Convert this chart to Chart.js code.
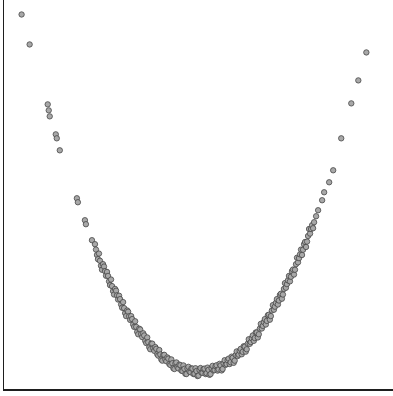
<!DOCTYPE html>
<html>
<head>
<meta charset="utf-8">
<script src="https://cdn.jsdelivr.net/npm/chart.js@4.4.1/dist/chart.umd.min.js"></script>
<style>
  html, body { margin: 0; padding: 0; background: #fff; overflow: hidden; }
  #box { width: 398px; height: 399px; margin-top: -3px; position: relative; }
</style>
</head>
<body>
<div id="box"><canvas id="chart"></canvas></div>
<script>
'use strict';

// Sparse points on the two arms of the curve.
const leftArmX = [-8.9, -8.5, -7.6, -7.55, -7.5, -7.2, -7.15, -7.0, -6.15, -6.1, -5.75, -5.7, -5.4, -5.25];
const leftArmY = [18.8, 17.3, 14.3, 14.0, 13.7, 12.8, 12.6, 12.0, 9.6, 9.4, 8.5, 8.3, 7.5, 7.3];
const rightArmX = [8.25, 7.85, 7.5, 7.0, 6.6, 6.4, 6.15, 6.05, 5.85, 5.75, 5.65, 5.6];
const rightArmY = [16.9, 15.5, 14.35, 12.6, 11.0, 10.4, 9.9, 9.5, 9.0, 8.7, 8.4, 8.1];

// Dense band around the bottom of the curve.
const bandX = [
  -5.2, -5.15, -5.1, -5.05, -5.0, -4.95, -4.9, -4.85, -4.8, -4.75, -4.7, -4.65, -4.6, -4.55, -4.5, -4.45,
  -4.4, -4.35, -4.3, -4.25, -4.2, -4.15, -4.1, -4.05, -4.0, -3.95, -3.9, -3.85, -3.8, -3.75, -3.7, -3.65,
  -3.6, -3.55, -3.5, -3.45, -3.4, -3.35, -3.3, -3.25, -3.2, -3.15, -3.1, -3.05, -3.0, -2.95, -2.9, -2.85,
  -2.8, -2.75, -2.7, -2.65, -2.6, -2.55, -2.5, -2.45, -2.4, -2.35, -2.3, -2.25, -2.2, -2.15, -2.1, -2.05,
  -2.0, -1.95, -1.9, -1.85, -1.8, -1.75, -1.7, -1.65, -1.6, -1.55, -1.5, -1.45, -1.4, -1.35, -1.3, -1.25,
  -1.2, -1.15, -1.1, -1.05, -1.0, -0.95, -0.9, -0.85, -0.8, -0.75, -0.7, -0.65, -0.6, -0.55, -0.5, -0.45,
  -0.4, -0.35, -0.3, -0.25, -0.2, -0.15, -0.1, -0.05, 0.0, 0.05, 0.1, 0.15, 0.2, 0.25, 0.3, 0.35,
  0.4, 0.45, 0.5, 0.55, 0.6, 0.65, 0.7, 0.75, 0.8, 0.85, 0.9, 0.95, 1.0, 1.05, 1.1, 1.15,
  1.2, 1.25, 1.3, 1.35, 1.4, 1.45, 1.5, 1.55, 1.6, 1.65, 1.7, 1.75, 1.8, 1.85, 1.9, 1.95,
  2.0, 2.05, 2.1, 2.15, 2.2, 2.25, 2.3, 2.35, 2.4, 2.45, 2.5, 2.55, 2.6, 2.65, 2.7, 2.75,
  2.8, 2.85, 2.9, 2.95, 3.0, 3.05, 3.1, 3.15, 3.2, 3.25, 3.3, 3.35, 3.4, 3.45, 3.5, 3.55,
  3.6, 3.65, 3.7, 3.75, 3.8, 3.85, 3.9, 3.95, 4.0, 4.05, 4.1, 4.15, 4.2, 4.25, 4.3, 4.35,
  4.4, 4.45, 4.5, 4.55, 4.6, 4.65, 4.7, 4.75, 4.8, 4.85, 4.9, 4.95, 5.0, 5.05, 5.1, 5.15,
  5.2, 5.25, 5.3, 5.35, 5.4, 5.45, 5.5, 5.55
];
const bandY = [
  7.03, 6.76, 6.55, 6.83, 6.47, 6.22, 6.02, 6.30, 6.18, 5.95, 5.72, 5.91, 5.71, 5.44, 5.25, 5.53,
  5.20, 4.95, 4.78, 5.06, 4.97, 4.74, 4.53, 4.72, 4.55, 4.28, 4.12, 4.40, 4.10, 3.85, 3.70, 3.98,
  3.92, 3.69, 3.51, 3.70, 3.55, 3.28, 3.16, 3.44, 3.16, 2.91, 2.79, 3.07, 3.03, 2.80, 2.65, 2.84,
  2.73, 2.46, 2.35, 2.63, 2.39, 2.14, 2.04, 2.32, 2.32, 2.09, 1.96, 2.15, 2.06, 1.79, 1.72, 2.00,
  1.78, 1.53, 1.47, 1.75, 1.76, 1.53, 1.44, 1.63, 1.57, 1.30, 1.25, 1.53, 1.34, 1.09, 1.05, 1.33,
  1.38, 1.15, 1.08, 1.27, 1.24, 0.97, 0.95, 1.23, 1.06, 0.81, 0.80, 1.08, 1.16, 0.93, 0.89, 1.08,
  1.07, 0.80, 0.81, 1.09, 0.95, 0.70, 0.72, 1.00, 1.10, 0.87, 0.86, 1.05, 1.07, 0.80, 0.84, 1.12,
  1.01, 0.76, 0.80, 1.08, 1.21, 0.98, 1.00, 1.19, 1.24, 0.97, 1.03, 1.31, 1.23, 0.98, 1.05, 1.33,
  1.49, 1.26, 1.30, 1.49, 1.57, 1.30, 1.39, 1.67, 1.61, 1.36, 1.47, 1.75, 1.93, 1.70, 1.77, 1.96,
  2.06, 1.79, 1.91, 2.19, 2.17, 1.92, 2.04, 2.32, 2.54, 2.31, 2.40, 2.59, 2.73, 2.46, 2.60, 2.88,
  2.88, 2.63, 2.79, 3.07, 3.31, 3.08, 3.21, 3.40, 3.55, 3.28, 3.46, 3.74, 3.77, 3.52, 3.70, 3.98,
  4.25, 4.02, 4.17, 4.36, 4.55, 4.28, 4.48, 4.76, 4.82, 4.57, 4.78, 5.06, 5.35, 5.12, 5.30, 5.49,
  5.71, 5.44, 5.67, 5.95, 6.03, 5.78, 6.02, 6.30, 6.62, 6.39, 6.60, 6.79, 7.03, 6.76, 7.02, 7.30,
  7.41, 7.16, 7.43, 7.71, 8.06, 7.83, 8.06, 8.25
];

const X_MIN = -9.8;
const X_MAX = 9.65;
const Y_MIN = 0;
const Y_MAX = 19.5;

function toPoints(xs, ys) {
  return xs.map((x, i) => ({x: x, y: ys[i]}));
}

const points = toPoints(leftArmX, leftArmY)
  .concat(toPoints(bandX, bandY))
  .concat(toPoints(rightArmX, rightArmY));

const configuration = {
  type: 'scatter',
  data: {
    datasets: [{
      data: points,
      pointRadius: 2.7,
      pointHoverRadius: 2.7,
      backgroundColor: 'rgba(168, 168, 168, 1)',
      borderColor: 'rgba(70, 70, 70, 1)',
      borderWidth: 0.8,
      clip: false
    }]
  },
  options: {
    responsive: true,
    maintainAspectRatio: false,
    animation: false,
    layout: {
      padding: {left: 3, right: 0, top: 0, bottom: 6}
    },
    scales: {
      x: {
        type: 'linear',
        min: X_MIN,
        max: X_MAX,
        ticks: {display: false},
        grid: {display: false, drawTicks: false},
        border: {display: true, color: 'rgba(30, 30, 30, 1)', width: 2}
      },
      y: {
        type: 'linear',
        min: Y_MIN,
        max: Y_MAX,
        ticks: {display: false},
        grid: {display: false, drawTicks: false},
        border: {display: true, color: 'rgba(30, 30, 30, 1)', width: 1}
      }
    },
    plugins: {
      legend: {display: false},
      tooltip: {enabled: false}
    }
  }
};

new Chart(document.getElementById('chart'), configuration);
</script>
</body>
</html>
